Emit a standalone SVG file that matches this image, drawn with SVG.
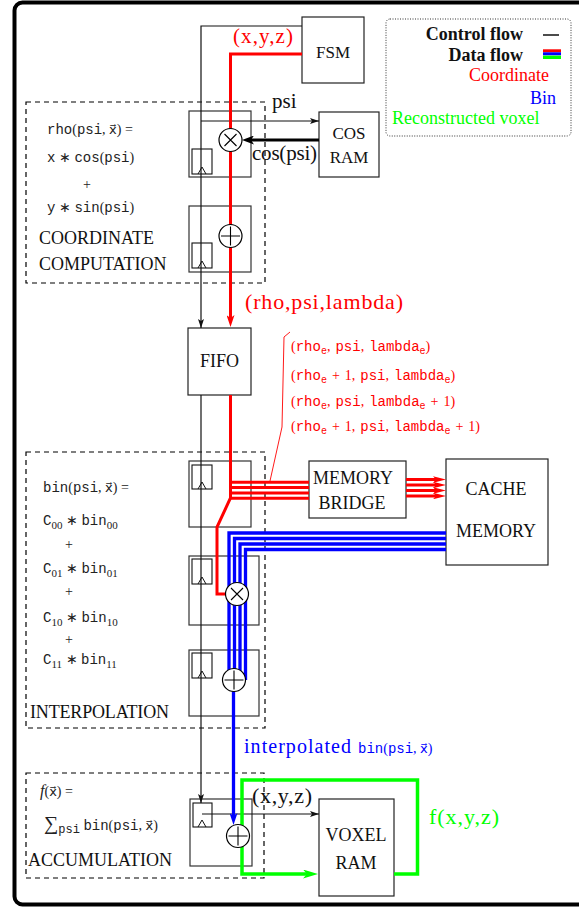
<svg xmlns="http://www.w3.org/2000/svg" width="579" height="907" viewBox="0 0 579 907">
<style>
.rm{font-family:"Liberation Serif","Times New Roman",serif}
.tt{font-family:"Liberation Mono","DejaVu Sans Mono",monospace}
.vx{font-family:"DejaVu Sans Mono","DejaVu Sans","DejaVu Serif",monospace;font-size:13px}
.b{font-weight:bold}
.box{fill:#fff;stroke:#222;stroke-width:1.2}
.stage{fill:none;stroke:#333;stroke-width:1.2}
.reg{fill:none;stroke:#111;stroke-width:1.1}
.clk{fill:none;stroke:#111;stroke-width:1}
.dash{fill:none;stroke:#000;stroke-width:1.2;stroke-dasharray:5 4}
.ctl{fill:none;stroke:#111;stroke-width:1.2}
.red{fill:none;stroke:#ff0000;stroke-width:3}
.blue{fill:none;stroke:#0000ff;stroke-width:3.3}
.green{fill:none;stroke:#00ff00;stroke-width:3.5}
.op{fill:#fff;stroke:#000;stroke-width:1.2}
.opl{stroke:#000;stroke-width:1.1}
.lbl{font-size:18px;fill:#111}
.m{font-size:14px;fill:#222}
.sub{font-size:11px}
</style>
<defs>
<marker id="mk" viewBox="0 0 9 6" refX="9" refY="3" markerWidth="9" markerHeight="6" orient="auto" markerUnits="userSpaceOnUse"><path d="M0,0 L9,3 L0,6 L2,3 z" fill="#111"/></marker>
<marker id="mk3" viewBox="0 0 12 9" refX="3" refY="4.5" markerWidth="12" markerHeight="9" orient="auto" markerUnits="userSpaceOnUse"><path d="M0,0 L12,4.5 L0,9 L3,4.5 z" fill="#000"/></marker>
<marker id="mr" viewBox="0 0 12 8" refX="3" refY="4" markerWidth="12" markerHeight="8" orient="auto" markerUnits="userSpaceOnUse"><path d="M0,0 L12,4 L0,8 L3,4 z" fill="#ff0000"/></marker>
<marker id="mrs" viewBox="0 0 13 6.5" refX="3" refY="3.25" markerWidth="13" markerHeight="6.5" orient="auto" markerUnits="userSpaceOnUse"><path d="M0,0 L13,3.25 L0,6.5 L3,3.25 z" fill="#ff0000"/></marker>
<marker id="mb" viewBox="0 0 12 8" refX="3" refY="4" markerWidth="12" markerHeight="8" orient="auto" markerUnits="userSpaceOnUse"><path d="M0,0 L12,4 L0,8 L3,4 z" fill="#0000ff"/></marker>
<marker id="mg" viewBox="0 0 15 9" refX="4" refY="4.5" markerWidth="15" markerHeight="9" orient="auto" markerUnits="userSpaceOnUse"><path d="M0,0 L15,4.5 L0,9 L4,4.5 z" fill="#00ff00"/></marker>
</defs>
<rect x="0" y="0" width="579" height="907" fill="#fff"/>
<rect x="14.5" y="2.5" width="600" height="902" rx="8" fill="none" stroke="#000" stroke-width="4"/>

<g id="coordinate-computation">
<rect class="dash" x="26" y="102" width="239" height="181"/>
<rect class="stage" x="189" y="111" width="62" height="66"/>
<rect class="reg" x="192" y="149" width="20" height="25"/>
<path class="clk" d="M198,174 L202,167 L206,174"/>
<rect class="stage" x="189" y="206" width="62" height="66"/>
<rect class="reg" x="192" y="243" width="20" height="25"/>
<path class="clk" d="M198,268 L202,261 L206,268"/>
<text class="m" x="47" y="134"><tspan class="tt">rho</tspan><tspan class="rm">(</tspan><tspan class="tt">psi</tspan><tspan class="rm">, </tspan><tspan class="vx">x⃗</tspan><tspan class="rm">) =</tspan></text>
<text class="m" x="47" y="162"><tspan class="tt">x</tspan><tspan class="rm"> ∗ </tspan><tspan class="tt">cos</tspan><tspan class="rm">(</tspan><tspan class="tt">psi</tspan><tspan class="rm">)</tspan></text>
<text class="m rm" x="83" y="189">+</text>
<text class="m" x="47" y="212"><tspan class="tt">y</tspan><tspan class="rm"> ∗ </tspan><tspan class="tt">sin</tspan><tspan class="rm">(</tspan><tspan class="tt">psi</tspan><tspan class="rm">)</tspan></text>
<text class="lbl rm" x="39" y="244">COORDINATE</text>
<text class="lbl rm" x="39" y="270">COMPUTATION</text>
</g>

<g id="interpolation">
<rect class="dash" x="26" y="452" width="239" height="276"/>
<rect class="stage" x="189" y="461" width="62" height="66"/>
<rect class="reg" x="192" y="465" width="20" height="24"/>
<path class="clk" d="M198,489 L202,482 L206,489"/>
<rect class="stage" x="189" y="556" width="70" height="69"/>
<rect class="reg" x="192" y="559" width="20" height="25"/>
<path class="clk" d="M198,584 L202,577 L206,584"/>
<rect class="stage" x="189" y="650" width="70" height="66"/>
<rect class="reg" x="192" y="653" width="20" height="25"/>
<path class="clk" d="M198,678 L202,671 L206,678"/>
<text class="m" x="43" y="492"><tspan class="tt">bin</tspan><tspan class="rm">(</tspan><tspan class="tt">psi</tspan><tspan class="rm">, </tspan><tspan class="vx">x⃗</tspan><tspan class="rm">) =</tspan></text>
<text class="m" x="43" y="525"><tspan class="tt">C</tspan><tspan class="rm sub" dy="4">00</tspan><tspan class="rm" dy="-4"> ∗ </tspan><tspan class="tt">bin</tspan><tspan class="rm sub" dy="4">00</tspan></text>
<text class="m rm" x="65" y="549">+</text>
<text class="m" x="43" y="573"><tspan class="tt">C</tspan><tspan class="rm sub" dy="4">01</tspan><tspan class="rm" dy="-4"> ∗ </tspan><tspan class="tt">bin</tspan><tspan class="rm sub" dy="4">01</tspan></text>
<text class="m rm" x="65" y="596">+</text>
<text class="m" x="43" y="622"><tspan class="tt">C</tspan><tspan class="rm sub" dy="4">10</tspan><tspan class="rm" dy="-4"> ∗ </tspan><tspan class="tt">bin</tspan><tspan class="rm sub" dy="4">10</tspan></text>
<text class="m rm" x="65" y="644">+</text>
<text class="m" x="43" y="664"><tspan class="tt">C</tspan><tspan class="rm sub" dy="4">11</tspan><tspan class="rm" dy="-4"> ∗ </tspan><tspan class="tt">bin</tspan><tspan class="rm sub" dy="4">11</tspan></text>
<text class="lbl rm" x="30" y="718" textLength="139">INTERPOLATION</text>
</g>

<g id="accumulation">
<rect class="dash" x="26" y="773" width="238" height="105"/>
<rect class="stage" x="190" y="799" width="62" height="67"/>
<rect class="reg" x="193" y="803" width="19" height="24"/>
<path class="clk" d="M198,827 L202,820 L206,827"/>
<text class="m" x="40" y="796"><tspan class="rm" font-style="italic" font-size="16">f</tspan><tspan class="rm">(</tspan><tspan class="vx">x⃗</tspan><tspan class="rm">) =</tspan></text>
<text class="m" x="44" y="830"><tspan class="rm" font-size="20">∑</tspan><tspan class="tt" font-size="12" dy="3">psi</tspan><tspan class="rm" dy="-3"> </tspan><tspan class="tt">bin</tspan><tspan class="rm">(</tspan><tspan class="tt">psi</tspan><tspan class="rm">, </tspan><tspan class="vx">x⃗</tspan><tspan class="rm">)</tspan></text>
<text class="lbl rm" x="28" y="866">ACCUMULATION</text>
</g>

<g id="fsm"><rect class="box" x="302" y="17" width="62" height="66"/><text class="rm lbl" style="font-size:17px" x="333" y="58" text-anchor="middle">FSM</text></g>
<g id="cos-ram"><rect class="box" x="319" y="112" width="60" height="65"/><text class="rm lbl" style="font-size:17px" x="349" y="139" text-anchor="middle">COS</text><text class="rm lbl" style="font-size:17px" x="349" y="163" text-anchor="middle">RAM</text></g>
<g id="fifo"><rect class="box" x="188" y="328" width="63" height="67"/><text class="rm lbl" x="219.5" y="367" text-anchor="middle">FIFO</text></g>
<g id="memory-bridge"><rect class="box" x="309" y="461" width="97" height="57"/><text class="rm lbl" x="353" y="484" text-anchor="middle">MEMORY</text><text class="rm lbl" x="352" y="509" text-anchor="middle">BRIDGE</text></g>
<g id="cache-memory"><rect class="box" x="446" y="459" width="102" height="106"/><text class="rm lbl" x="496" y="495" text-anchor="middle">CACHE</text><text class="rm lbl" x="496" y="537" text-anchor="middle">MEMORY</text></g>
<g id="voxel-ram"><rect class="box" x="319" y="799" width="75" height="97"/><text class="rm lbl" x="356" y="841" text-anchor="middle">VOXEL</text><text class="rm lbl" x="356" y="869" text-anchor="middle">RAM</text></g>

<g id="legend">
<rect x="386" y="19" width="185" height="117" rx="4" fill="none" stroke="#333" stroke-width="1" stroke-dasharray="1 1.5"/>
<text class="rm b lbl" x="523" y="40" text-anchor="end">Control flow</text>
<line x1="543" y1="35" x2="559" y2="35" stroke="#111" stroke-width="1.5"/>
<text class="rm b lbl" x="523" y="61" text-anchor="end">Data flow</text>
<rect x="543" y="49.3" width="18" height="3" fill="#ff0000"/>
<rect x="543" y="52.3" width="18" height="3" fill="#0000ff"/>
<rect x="543" y="55.6" width="18" height="3.4" fill="#00ff00"/>
<text class="rm lbl" x="549" y="81" text-anchor="end" style="fill:#ff0000">Coordinate</text>
<text class="rm lbl" x="556" y="104" text-anchor="end" style="fill:#0000ff">Bin</text>
<text class="rm lbl" x="392" y="124" style="fill:#00ff00">Reconstructed voxel</text>
</g>

<g id="connectors">
<path class="ctl" d="M302,26 H201 V328" marker-end="url(#mk)"/>
<path class="ctl" d="M201,395 V803" marker-end="url(#mk)"/>
<path class="ctl" d="M201,121 H319" marker-end="url(#mk)"/>
<path class="ctl" d="M202,814 H319" marker-end="url(#mk)"/>
<path d="M319,140 H251" fill="none" stroke="#000" stroke-width="3" marker-end="url(#mk3)"/>
<path class="red" d="M302,54 H230.5 V318" marker-end="url(#mr)"/>
<path class="red" d="M230.5,395 V498 L217,527 V594 H226"/>
<line class="red" x1="230" y1="482.3" x2="309" y2="482.3"/>
<line class="red" x1="230" y1="487.6" x2="309" y2="487.6"/>
<line class="red" x1="230" y1="492.9" x2="309" y2="492.9"/>
<line class="red" x1="230" y1="498.2" x2="309" y2="498.2"/>
<line class="red" x1="406" y1="479.5" x2="436" y2="479.5" marker-end="url(#mrs)"/>
<line class="red" x1="406" y1="485" x2="436" y2="485" marker-end="url(#mrs)"/>
<line class="red" x1="406" y1="490.5" x2="436" y2="490.5" marker-end="url(#mrs)"/>
<line class="red" x1="406" y1="496" x2="436" y2="496" marker-end="url(#mrs)"/>
<polyline points="290,332 284,337 282,427 270,481" fill="none" stroke="#ff0000" stroke-width="0.9"/>
<path class="blue" d="M446,533 H229 V680"/>
<path class="blue" d="M446,538.5 H234.5 V680"/>
<path class="blue" d="M446,544 H240 V680"/>
<path class="blue" d="M446,549.5 H245.5 V680"/>
<path class="blue" d="M233.5,691 V816" marker-end="url(#mb)"/>
<path class="green" d="M394,874 H417.5 V780 H242 V874 H307" marker-end="url(#mg)"/>
</g>

<g id="operators">
<circle class="op" cx="230.5" cy="140" r="11.5"/><path class="opl" d="M224.5,134 L236.5,146 M236.5,134 L224.5,146"/>
<circle class="op" cx="230.5" cy="236" r="11.5"/><path class="opl" d="M221,236 H240 M230.5,226.5 V245.5"/>
<circle class="op" cx="237" cy="594" r="11.5"/><path class="opl" d="M231,588 L243,600 M243,588 L231,600"/>
<circle class="op" cx="234" cy="680" r="11.5"/><path class="opl" d="M224.5,680 H243.5 M234,670.5 V689.5"/>
<circle class="op" cx="238" cy="836" r="11.5"/><path class="opl" d="M228.5,836 H247.5 M238,826.5 V845.5"/>
</g>

<g id="labels">
<text class="rm" x="233" y="43" font-size="21" fill="#ff0000" textLength="60">(x,y,z)</text>
<text class="rm" x="272" y="108" font-size="21" fill="#111">psi</text>
<text class="rm" x="252" y="160" font-size="21" fill="#111" textLength="65">cos(psi)</text>
<text class="rm" x="245" y="309" font-size="22" fill="#ff0000" textLength="158">(rho,psi,lambda)</text>
<text class="m" x="291" y="351" style="fill:#ff0000" word-spacing="1.5"><tspan class="rm">(</tspan><tspan class="tt">rho</tspan><tspan class="tt" font-size="10" dy="3">e</tspan><tspan class="rm" dy="-3">, </tspan><tspan class="tt">psi</tspan><tspan class="rm">, </tspan><tspan class="tt">lambda</tspan><tspan class="tt" font-size="10" dy="3">e</tspan><tspan class="rm" dy="-3">)</tspan></text>
<text class="m" x="291" y="380" style="fill:#ff0000" word-spacing="1.5"><tspan class="rm">(</tspan><tspan class="tt">rho</tspan><tspan class="tt" font-size="10" dy="3">e</tspan><tspan class="rm" dy="-3"> + 1, </tspan><tspan class="tt">psi</tspan><tspan class="rm">, </tspan><tspan class="tt">lambda</tspan><tspan class="tt" font-size="10" dy="3">e</tspan><tspan class="rm" dy="-3">)</tspan></text>
<text class="m" x="291" y="406" style="fill:#ff0000" word-spacing="1.5"><tspan class="rm">(</tspan><tspan class="tt">rho</tspan><tspan class="tt" font-size="10" dy="3">e</tspan><tspan class="rm" dy="-3">, </tspan><tspan class="tt">psi</tspan><tspan class="rm">, </tspan><tspan class="tt">lambda</tspan><tspan class="tt" font-size="10" dy="3">e</tspan><tspan class="rm" dy="-3"> + 1)</tspan></text>
<text class="m" x="291" y="431" style="fill:#ff0000" word-spacing="1.5"><tspan class="rm">(</tspan><tspan class="tt">rho</tspan><tspan class="tt" font-size="10" dy="3">e</tspan><tspan class="rm" dy="-3"> + 1, </tspan><tspan class="tt">psi</tspan><tspan class="rm">, </tspan><tspan class="tt">lambda</tspan><tspan class="tt" font-size="10" dy="3">e</tspan><tspan class="rm" dy="-3"> + 1)</tspan></text>
<text class="rm" x="244" y="753" font-size="20" fill="#0000ff" textLength="107">interpolated</text>
<text class="m" x="358" y="753" style="fill:#0000ff"><tspan class="tt">bin</tspan><tspan class="rm">(</tspan><tspan class="tt">psi</tspan><tspan class="rm">, </tspan><tspan class="vx">x⃗</tspan><tspan class="rm">)</tspan></text>
<text class="rm" x="252" y="803" font-size="22" fill="#111" textLength="60">(x,y,z)</text>
<text class="rm" x="429" y="824" font-size="22" fill="#00ff00" textLength="70">f(x,y,z)</text>
</g>
</svg>
